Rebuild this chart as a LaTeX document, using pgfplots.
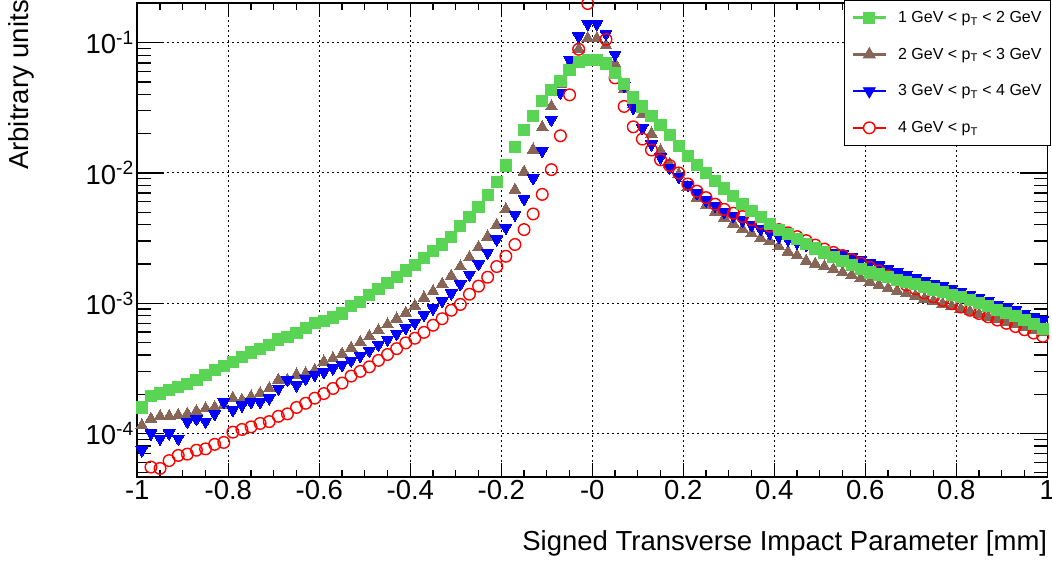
\documentclass[border=0pt]{standalone}
\usepackage{fontspec}
\setmainfont{Liberation Sans}
\usepackage{pgfplots}
\usepackage{pgfplotstable}
\pgfplotsset{compat=1.18}
\definecolor{rgreen}{RGB}{89,212,84}
\definecolor{rbrown}{RGB}{135,102,87}

% 1 GeV < pT < 2 GeV
\pgfplotstableread{
x y
-0.99 1.58e-4
-0.97 1.93e-4
-0.95 2.02e-4
-0.93 2.14e-4
-0.91 2.26e-4
-0.89 2.40e-4
-0.87 2.57e-4
-0.85 2.79e-4
-0.83 3.05e-4
-0.81 3.27e-4
-0.79 3.55e-4
-0.77 3.85e-4
-0.75 4.17e-4
-0.73 4.47e-4
-0.71 4.79e-4
-0.69 5.25e-4
-0.67 5.50e-4
-0.65 5.89e-4
-0.63 6.46e-4
-0.61 7.00e-4
-0.59 7.24e-4
-0.57 7.76e-4
-0.55 8.32e-4
-0.53 9.44e-4
-0.51 1.02e-3
-0.49 1.16e-3
-0.47 1.29e-3
-0.45 1.43e-3
-0.43 1.58e-3
-0.41 1.78e-3
-0.39 1.95e-3
-0.37 2.21e-3
-0.35 2.51e-3
-0.33 2.82e-3
-0.31 3.24e-3
-0.29 3.89e-3
-0.27 4.57e-3
-0.25 5.50e-3
-0.23 6.76e-3
-0.21 8.51e-3
-0.19 1.14e-2
-0.17 1.58e-2
-0.15 2.14e-2
-0.13 2.75e-2
-0.11 3.59e-2
-0.09 4.32e-2
-0.07 5.07e-2
-0.05 6.17e-2
-0.03 7.08e-2
-0.01 7.41e-2
0.01 7.33e-2
0.03 6.92e-2
0.05 5.89e-2
0.07 4.79e-2
0.09 3.80e-2
0.11 3.24e-2
0.13 2.75e-2
0.15 2.34e-2
0.17 1.95e-2
0.19 1.62e-2
0.21 1.35e-2
0.23 1.15e-2
0.25 1.00e-2
0.27 8.71e-3
0.29 7.59e-3
0.31 6.61e-3
0.33 5.75e-3
0.35 5.13e-3
0.37 4.57e-3
0.39 4.07e-3
0.41 3.63e-3
0.43 3.39e-3
0.45 3.09e-3
0.47 2.85e-3
0.49 2.63e-3
0.51 2.45e-3
0.53 2.26e-3
0.55 2.11e-3
0.57 1.95e-3
0.59 1.82e-3
0.61 1.72e-3
0.63 1.66e-3
0.65 1.58e-3
0.67 1.51e-3
0.69 1.45e-3
0.71 1.40e-3
0.73 1.33e-3
0.75 1.27e-3
0.77 1.22e-3
0.79 1.16e-3
0.81 1.11e-3
0.83 1.06e-3
0.85 1.00e-3
0.87 9.44e-4
0.89 8.91e-4
0.91 8.41e-4
0.93 7.94e-4
0.95 7.41e-4
0.97 6.92e-4
0.99 6.31e-4
}\tabgreen

% 2 GeV < pT < 3 GeV
\pgfplotstableread{
x y
-0.99 1.15e-4
-0.97 1.29e-4
-0.95 1.35e-4
-0.93 1.35e-4
-0.91 1.38e-4
-0.89 1.41e-4
-0.87 1.48e-4
-0.85 1.55e-4
-0.83 1.58e-4
-0.81 1.64e-4
-0.79 1.86e-4
-0.77 1.80e-4
-0.75 1.91e-4
-0.73 2.02e-4
-0.71 2.21e-4
-0.69 2.57e-4
-0.67 2.57e-4
-0.65 2.82e-4
-0.63 2.88e-4
-0.61 3.05e-4
-0.59 3.55e-4
-0.57 3.76e-4
-0.55 4.07e-4
-0.53 4.52e-4
-0.51 5.01e-4
-0.49 5.56e-4
-0.47 6.17e-4
-0.45 6.84e-4
-0.43 7.59e-4
-0.41 8.41e-4
-0.39 9.55e-4
-0.37 1.10e-3
-0.35 1.23e-3
-0.33 1.40e-3
-0.31 1.62e-3
-0.29 1.91e-3
-0.27 2.24e-3
-0.25 2.69e-3
-0.23 3.24e-3
-0.21 3.98e-3
-0.19 5.25e-3
-0.17 7.41e-3
-0.15 1.02e-2
-0.13 1.51e-2
-0.11 2.24e-2
-0.09 3.24e-2
-0.07 4.79e-2
-0.05 6.76e-2
-0.03 8.91e-2
-0.01 0.108
0.01 0.108
0.03 9.55e-2
0.05 6.92e-2
0.07 4.37e-2
0.09 3.39e-2
0.11 2.82e-2
0.13 2.00e-2
0.15 1.48e-2
0.17 1.17e-2
0.19 9.77e-3
0.21 7.76e-3
0.23 6.46e-3
0.25 5.62e-3
0.27 5.01e-3
0.29 4.52e-3
0.31 4.07e-3
0.33 3.72e-3
0.35 3.43e-3
0.37 3.16e-3
0.39 2.99e-3
0.41 2.72e-3
0.43 2.48e-3
0.45 2.32e-3
0.47 2.11e-3
0.49 2.00e-3
0.51 1.91e-3
0.53 1.82e-3
0.55 1.72e-3
0.57 1.64e-3
0.59 1.55e-3
0.61 1.46e-3
0.63 1.38e-3
0.65 1.30e-3
0.67 1.24e-3
0.69 1.19e-3
0.71 1.14e-3
0.73 1.08e-3
0.75 1.04e-3
0.77 9.89e-4
0.79 9.44e-4
0.81 9.02e-4
0.83 8.61e-4
0.85 8.22e-4
0.87 7.85e-4
0.89 7.50e-4
0.91 7.16e-4
0.93 6.84e-4
0.95 6.53e-4
0.97 6.24e-4
0.99 5.96e-4
}\tabbrown

% 3 GeV < pT < 4 GeV
\pgfplotstableread{
x y
-0.99 7.41e-5
-0.97 1.00e-4
-0.95 9.12e-5
-0.93 1.00e-4
-0.91 9.12e-5
-0.89 1.23e-4
-0.87 1.29e-4
-0.85 1.23e-4
-0.83 1.41e-4
-0.81 1.74e-4
-0.79 1.51e-4
-0.77 1.64e-4
-0.75 1.74e-4
-0.73 1.74e-4
-0.71 1.86e-4
-0.69 2.21e-4
-0.67 2.57e-4
-0.65 2.34e-4
-0.63 2.63e-4
-0.61 2.82e-4
-0.59 2.95e-4
-0.57 3.16e-4
-0.55 3.35e-4
-0.53 3.63e-4
-0.51 3.94e-4
-0.49 4.32e-4
-0.47 4.79e-4
-0.45 5.25e-4
-0.43 5.82e-4
-0.41 6.46e-4
-0.39 7.08e-4
-0.37 8.13e-4
-0.35 9.12e-4
-0.33 1.04e-3
-0.31 1.19e-3
-0.29 1.40e-3
-0.27 1.66e-3
-0.25 2.00e-3
-0.23 2.45e-3
-0.21 3.09e-3
-0.19 3.80e-3
-0.17 4.79e-3
-0.15 6.31e-3
-0.13 9.12e-3
-0.11 1.48e-2
-0.09 2.57e-2
-0.07 4.12e-2
-0.05 7.41e-2
-0.03 0.112
-0.01 0.140
0.01 0.140
0.03 0.117
0.05 8.13e-2
0.07 4.68e-2
0.09 3.16e-2
0.11 2.21e-2
0.13 1.66e-2
0.15 1.32e-2
0.17 1.10e-2
0.19 9.33e-3
0.21 8.13e-3
0.23 7.00e-3
0.25 6.17e-3
0.27 5.62e-3
0.29 5.01e-3
0.31 4.68e-3
0.33 4.32e-3
0.35 3.98e-3
0.37 3.72e-3
0.39 3.47e-3
0.41 3.24e-3
0.43 3.09e-3
0.45 2.92e-3
0.47 2.79e-3
0.49 2.66e-3
0.51 2.54e-3
0.53 2.45e-3
0.55 2.37e-3
0.57 2.26e-3
0.59 2.16e-3
0.61 2.04e-3
0.63 1.95e-3
0.65 1.84e-3
0.67 1.74e-3
0.69 1.64e-3
0.71 1.55e-3
0.73 1.48e-3
0.75 1.41e-3
0.77 1.35e-3
0.79 1.29e-3
0.81 1.23e-3
0.83 1.16e-3
0.85 1.10e-3
0.87 1.04e-3
0.89 9.77e-4
0.91 9.33e-4
0.93 8.81e-4
0.95 8.32e-4
0.97 7.85e-4
0.99 7.41e-4
}\tabblue

% 4 GeV < pT
\pgfplotstableread{
x y
-0.97 5.50e-5
-0.95 5.37e-5
-0.93 6.17e-5
-0.91 6.76e-5
-0.89 6.92e-5
-0.87 7.41e-5
-0.85 7.59e-5
-0.83 8.22e-5
-0.81 8.51e-5
-0.79 1.02e-4
-0.77 1.07e-4
-0.75 1.12e-4
-0.73 1.19e-4
-0.71 1.23e-4
-0.69 1.35e-4
-0.67 1.41e-4
-0.65 1.58e-4
-0.63 1.70e-4
-0.61 1.86e-4
-0.59 2.02e-4
-0.57 2.21e-4
-0.55 2.43e-4
-0.53 2.75e-4
-0.51 2.99e-4
-0.49 3.24e-4
-0.47 3.63e-4
-0.45 4.03e-4
-0.43 4.47e-4
-0.41 4.95e-4
-0.39 5.37e-4
-0.37 5.96e-4
-0.35 6.76e-4
-0.33 7.59e-4
-0.31 8.81e-4
-0.29 9.77e-4
-0.27 1.17e-3
-0.25 1.35e-3
-0.23 1.58e-3
-0.21 1.91e-3
-0.19 2.29e-3
-0.17 2.82e-3
-0.15 3.67e-3
-0.13 4.84e-3
-0.11 6.84e-3
-0.09 1.06e-2
-0.07 1.93e-2
-0.05 3.98e-2
-0.03 8.91e-2
-0.01 0.200
0.03 0.106
0.05 5.37e-2
0.07 3.24e-2
0.09 2.26e-2
0.11 1.82e-2
0.13 1.50e-2
0.15 1.26e-2
0.17 1.14e-2
0.19 1.00e-2
0.21 8.22e-3
0.23 7.24e-3
0.25 6.46e-3
0.27 5.75e-3
0.29 5.25e-3
0.31 4.90e-3
0.33 4.62e-3
0.35 4.37e-3
0.37 4.12e-3
0.39 3.89e-3
0.41 3.67e-3
0.43 3.47e-3
0.45 3.24e-3
0.47 3.02e-3
0.49 2.79e-3
0.51 2.60e-3
0.53 2.45e-3
0.55 2.32e-3
0.57 2.16e-3
0.59 2.02e-3
0.61 1.88e-3
0.63 1.76e-3
0.65 1.62e-3
0.67 1.50e-3
0.69 1.38e-3
0.71 1.29e-3
0.73 1.20e-3
0.75 1.12e-3
0.77 1.05e-3
0.79 9.89e-4
0.81 9.33e-4
0.83 8.81e-4
0.85 8.32e-4
0.87 7.85e-4
0.89 7.41e-4
0.91 7.00e-4
0.93 6.61e-4
0.95 6.24e-4
0.97 5.89e-4
0.99 5.56e-4
}\tabred

\pgfplotsset{
  rootframe/.style={
    at={(137.3pt,86.3pt)}, anchor=south west,
    width=910pt, height=474pt, scale only axis,
    xmin=-1, xmax=1,
    ymin=4.64e-5, ymax=0.203,
    tick align=inside,
    axis line style={line width=1.6pt},
    tick style={black, line width=1.2pt},
    ticklabel style={font=\fontsize{27.5}{33}\selectfont},
    label style={font=\fontsize{27.5}{33}\selectfont},
  }
}

\begin{document}
\begin{tikzpicture}
\useasboundingbox (0pt,0pt) rectangle (1052pt,563pt);

% y ticks and labels (longer ticks, as in ROOT)
\begin{axis}[ymode=log, log basis y=10, rootframe,
  xtick=\empty, minor xtick={},
  ytick={1e-4,1e-3,1e-2,1e-1},
  yticklabels={10\textsuperscript{-4},10\textsuperscript{-3},10\textsuperscript{-2},10\textsuperscript{-1}},
  minor ytick={5e-5,6e-5,7e-5,8e-5,9e-5,
    2e-4,3e-4,4e-4,5e-4,6e-4,7e-4,8e-4,9e-4,
    2e-3,3e-3,4e-3,5e-3,6e-3,7e-3,8e-3,9e-3,
    2e-2,3e-2,4e-2,5e-2,6e-2,7e-2,8e-2,9e-2,2e-1},
  major tick length=27pt, minor tick length=13.5pt,
  ylabel={Arbitrary units},
  ylabel style={at={(axis description cs:-0.1201,1.0057)}, anchor=base east, inner sep=0pt},
]
\end{axis}

% data, x ticks, grid, legend
\begin{axis}[ymode=log, log basis y=10, rootframe, clip=false,
  xtick={-1,-0.8,-0.6,-0.4,-0.2,0,0.2,0.4,0.6,0.8,1},
  xticklabels={-1,-0.8,-0.6,-0.4,-0.2,-0,0.2,0.4,0.6,0.8,1},
  minor x tick num=3,
  major tick length=14pt, minor tick length=7pt,
  ytick={1e-4,1e-3,1e-2,1e-1}, yticklabels={}, minor ytick={},
  ytick style={draw=none},
  grid=major,
  major grid style={black, line width=1.1pt, dash pattern=on 1.4pt off 3.6pt},
  xlabel={Signed Transverse Impact Parameter [mm]},
  xlabel style={at={(axis description cs:1,-0.1125)}, anchor=north east, inner sep=0pt},
  legend image code/.code={
    \draw[#1, mark=none, line width=2.6pt] (0pt,0pt) -- (33pt,0pt);
    \draw[#1] plot coordinates {(16.5pt,0pt)};
  },
  legend style={at={(axis description cs:1,1)}, anchor=north east,
    xshift=3.7pt, yshift=2.7pt, draw=black, line width=0.9pt, fill=white,
    inner xsep=7pt, inner ysep=9pt, row sep=20pt,
    font=\fontsize{16}{19}\selectfont,
    /tikz/every odd column/.append style={column sep=9pt}},
  legend cell align=left,
]
\addlegendimage{only marks, mark=square*, mark size=5.6pt, rgreen, mark options={draw=rgreen, fill=rgreen}}
\addlegendentry{1 GeV < p\textsubscript{T} < 2 GeV}
\addlegendimage{only marks, mark=triangle*, mark size=6.8pt, rbrown, mark options={draw=rbrown, fill=rbrown}}
\addlegendentry{2 GeV < p\textsubscript{T} < 3 GeV}
\addlegendimage{only marks, mark=triangle*, mark size=6.8pt, blue, mark options={rotate=180, draw=blue, fill=blue}}
\addlegendentry{3 GeV < p\textsubscript{T} < 4 GeV}
\addlegendimage{only marks, mark=*, mark size=5.8pt, red, mark options={draw=red, fill=white, line width=1.4pt}}
\addlegendentry{4 GeV < p\textsubscript{T}}

\addplot[forget plot, only marks, mark=triangle*, mark size=6.8pt, mark options={draw=rbrown, fill=rbrown, line width=0pt}] table[x=x,y=y] {\tabbrown};
\addplot[forget plot, only marks, mark=triangle*, mark size=6.8pt, mark options={rotate=180, draw=blue, fill=blue, line width=0pt}] table[x=x,y=y] {\tabblue};
\addplot[forget plot, only marks, mark=o, mark size=5.8pt, mark options={draw=red, line width=1.4pt}] table[x=x,y=y] {\tabred};
\addplot[forget plot, only marks, mark=square*, mark size=5.6pt, mark options={draw=rgreen, fill=rgreen, line width=0pt}] table[x=x,y=y] {\tabgreen};
\end{axis}
\end{tikzpicture}
\end{document}
